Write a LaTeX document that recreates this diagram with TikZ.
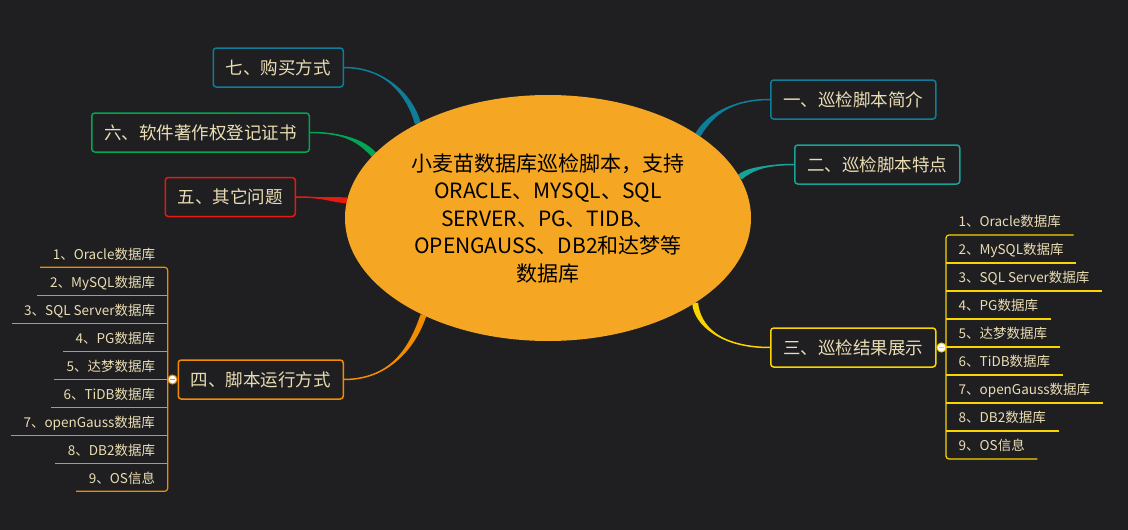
\documentclass[tikz,border=0pt]{standalone}
\usepackage{fontspec}
\usetikzlibrary{positioning,calc,shapes.geometric}
\newfontfamily\cjk{Noto Sans CJK SC}
\definecolor{bgcol}{HTML}{1F1F22}
\definecolor{rootcol}{HTML}{F5A623}
\definecolor{txtcol}{HTML}{EADDB3}
\definecolor{c1}{HTML}{0F7D98}
\definecolor{c2}{HTML}{17A398}
\definecolor{c3}{HTML}{F9D400}
\definecolor{c4}{HTML}{F28C00}
\definecolor{c5}{HTML}{E8190F}
\definecolor{c6}{HTML}{00A651}
\definecolor{c7}{HTML}{0F7D98}
\pgfdeclarelayer{bg}
\pgfsetlayers{bg,main}
% tapered branch: colour, from, control 1, control 2, to
\newcommand{\taper}[5]{%
  \fill[#1] #2 .. controls #3 and ($#4!3pt!-90:#5$) .. ($#5!3pt!90:#4$)
    -- ($#5!3pt!-90:#4$) .. controls ($#4!3pt!90:#5$) and #3 .. #2 -- cycle;
  \draw[#1, line width=1.5pt] #2 .. controls #3 and #4 .. #5;}

\begin{document}
\begin{tikzpicture}[x=1pt,y=-1pt]
\tikzstyle{root}=[ellipse, fill=rootcol, minimum width=406pt, minimum height=246pt, inner sep=0pt, align=center, font=\cjk\fontsize{21}{27.5}\selectfont]
\tikzstyle{branch}=[rectangle, rounded corners=3pt, line width=1.5pt, fill=bgcol, text=txtcol, minimum height=39pt, inner xsep=12.5pt, font=\cjk\fontsize{17.5}{20}\selectfont]
\tikzstyle{item}=[text=txtcol, text height=10pt, text depth=3pt, inner ysep=5pt, inner xsep=12.5pt, font=\cjk\fontsize{13.5}{16}\selectfont]
\tikzstyle{knob}=[circle, fill=white, minimum size=9pt, inner sep=0pt, line width=1pt]
\tikzstyle{uline}=[line width=1.2pt]
\useasboundingbox (0,0) rectangle (1128,530);

\node[root] (root) at (548,218) {小麦苗数据库巡检脚本，支持\\ORACLE、MYSQL、SQL\\SERVER、PG、TIDB、\\OPENGAUSS、DB2和达梦等\\数据库};

\node[branch, draw=c1, anchor=west] (b_1) at (770,99.5) {一、巡检脚本简介};
\node[branch, draw=c2, anchor=west] (b_2) at (794,164.5) {二、巡检脚本特点};
\node[branch, draw=c3, anchor=west] (b_3) at (770,347.5) {三、巡检结果展示};
\node[branch, draw=c4, anchor=east] (b_4) at (344,379.5) {四、脚本运行方式};
\node[branch, draw=c5, anchor=east] (b_5) at (296,197) {五、其它问题};
\node[branch, draw=c6, anchor=east] (b_6) at (310,132.5) {六、软件著作权登记证书};
\node[branch, draw=c7, anchor=east] (b_7) at (344,67.5) {七、购买方式};

% right list
\node[item, anchor=south west] (r_1) at (946,235) {1、Oracle数据库};
\node[item, below=4.6pt of r_1.south west, anchor=north west] (r_2) {2、MySQL数据库};
\node[item, below=4.6pt of r_2.south west, anchor=north west] (r_3) {3、SQL Server数据库};
\node[item, below=4.6pt of r_3.south west, anchor=north west] (r_4) {4、PG数据库};
\node[item, below=4.6pt of r_4.south west, anchor=north west] (r_5) {5、达梦数据库};
\node[item, below=4.6pt of r_5.south west, anchor=north west] (r_6) {6、TiDB数据库};
\node[item, below=4.6pt of r_6.south west, anchor=north west] (r_7) {7、openGauss数据库};
\node[item, below=4.6pt of r_7.south west, anchor=north west] (r_8) {8、DB2数据库};
\node[item, below=4.6pt of r_8.south west, anchor=north west] (r_9) {9、OS信息};

% left list
\node[item, anchor=south east] (l_1) at (167.7,267.3) {1、Oracle数据库};
\node[item, below=4.6pt of l_1.south east, anchor=north east] (l_2) {2、MySQL数据库};
\node[item, below=4.6pt of l_2.south east, anchor=north east] (l_3) {3、SQL Server数据库};
\node[item, below=4.6pt of l_3.south east, anchor=north east] (l_4) {4、PG数据库};
\node[item, below=4.6pt of l_4.south east, anchor=north east] (l_5) {5、达梦数据库};
\node[item, below=4.6pt of l_5.south east, anchor=north east] (l_6) {6、TiDB数据库};
\node[item, below=4.6pt of l_6.south east, anchor=north east] (l_7) {7、openGauss数据库};
\node[item, below=4.6pt of l_7.south east, anchor=north east] (l_8) {8、DB2数据库};
\node[item, below=4.6pt of l_8.south east, anchor=north east] (l_9) {9、OS信息};

\node[knob, draw=c3, right=0pt of b_3] (k_3) {};
\node[knob, draw=c4, left=0pt of b_4] (k_4) {};

\draw[uline, c3, rounded corners=3pt] (r_1.south east) -- (r_1.south west) -- (r_9.south west) -- (r_9.south east);
\draw[uline, c4, rounded corners=3pt] (l_1.south west) -- (l_1.south east) -- (l_9.south east) -- (l_9.south west);

\path
(r_2.south west) edge [uline, c3] (r_2.south east)
(r_3.south west) edge [uline, c3] (r_3.south east)
(r_4.south west) edge [uline, c3] (r_4.south east)
(r_5.south west) edge [uline, c3] (r_5.south east)
(r_6.south west) edge [uline, c3] (r_6.south east)
(r_7.south west) edge [uline, c3] (r_7.south east)
(r_8.south west) edge [uline, c3] (r_8.south east)
(k_3.east) edge [uline, c3] (r_5.south west)

(l_2.south east) edge [uline, c4] (l_2.south west)
(l_3.south east) edge [uline, c4] (l_3.south west)
(l_4.south east) edge [uline, c4] (l_4.south west)
(l_5.south east) edge [uline, c4] (l_5.south west)
(l_6.south east) edge [uline, c4] (l_6.south west)
(l_7.south east) edge [uline, c4] (l_7.south west)
(l_8.south east) edge [uline, c4] (l_8.south west)
(k_4.west) edge [uline, c4] (l_5.south east);

\draw[c3, line width=1pt] ($(k_3)+(-2.2,0)$) -- ($(k_3)+(2.2,0)$);
\draw[c4, line width=1pt] ($(k_4)+(-2.2,0)$) -- ($(k_4)+(2.2,0)$);

\begin{pgfonlayer}{bg}
\fill[bgcol] (0,0) rectangle (1128,530);
\taper{c1}{(b_1.west)}{(728,99.5)}{(708,118)}{(root.29)}
\taper{c2}{(b_2.west)}{(765,164.5)}{(748,170)}{(root.12)}
\taper{c3}{(b_3.west)}{(720,347.5)}{(697,325)}{(root.-30)}
\taper{c4}{(b_4.east)}{(395,379.5)}{(415,340)}{(root.218)}
\taper{c5}{(b_5.east)}{(320,197)}{(335,200)}{(root.175)}
\taper{c6}{(b_6.east)}{(345,132.5)}{(362,142)}{(root.160)}
\taper{c7}{(b_7.east)}{(385,67.5)}{(410,95)}{(root.144)}
\end{pgfonlayer}
\end{tikzpicture}
\end{document}
